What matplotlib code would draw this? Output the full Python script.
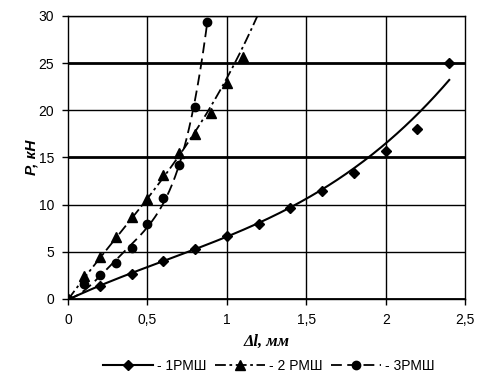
import numpy as np
import matplotlib
matplotlib.use("Agg")
import matplotlib.pyplot as plt
from matplotlib.lines import Line2D

plt.rcParams['font.family'] = ['Liberation Sans', 'DejaVu Sans']

# series 1 (1РМШ) measured points
x1 = [0, 0.2, 0.4, 0.6, 0.8, 1.0, 1.2, 1.4, 1.6, 1.8, 2.0, 2.2, 2.4]
y1 = [0, 1.4, 2.7, 4.0, 5.3, 6.7, 8.0, 9.6, 11.5, 13.4, 15.7, 18.0, 25.0]
# series 2 (2 РМШ)
x2 = [0, 0.1, 0.2, 0.3, 0.4, 0.5, 0.6, 0.7, 0.8, 0.9, 1.0, 1.1]
y2 = [0, 2.4, 4.5, 6.6, 8.7, 10.6, 13.1, 15.5, 17.5, 19.7, 22.9, 25.6]
# series 3 (3РМШ)
x3 = [0, 0.1, 0.2, 0.3, 0.4, 0.5, 0.6, 0.7, 0.8, 0.875]
y3 = [0, 1.6, 2.5, 3.8, 5.4, 8.0, 10.7, 14.2, 20.4, 29.4]

# trend curves
t1x = [0, 0.4, 0.8, 1.2, 1.6, 1.8, 2.0, 2.2, 2.4]
t1y = [0, 2.6, 5.3, 8.1, 11.8, 13.9, 16.3, 19.4, 23.4]
t2x = [0, 0.2, 0.4, 0.6, 0.8, 1.0, 1.19]
t2y = [0, 4.2, 8.5, 13.0, 17.8, 23.2, 30.0]
t3x = [0, 0.2, 0.4, 0.5, 0.6, 0.7, 0.8, 0.875]
t3y = [0, 2.6, 5.4, 7.6, 10.5, 14.5, 20.5, 29.4]

labels = ['- 1РМШ', '- 2 РМШ', '- 3РМШ']
xticks = [0, 0.5, 1, 1.5, 2, 2.5]
xtick_labels = ['0', '0,5', '1', '1,5', '2', '2,5']
yticks = [0, 5, 10, 15, 20, 25, 30]


def smooth(x, y, deg, x_end):
    c = np.polyfit(x, y, deg)
    xs = np.linspace(0, x_end, 300)
    return xs, np.polyval(c, xs)


fig = plt.figure(figsize=(4.8, 3.87), dpi=100)
ax = fig.add_axes([0.1417, 0.2274, 0.8273, 0.7313])

for yv in yticks:
    lw = 2.0 if yv in (0, 15, 25) else 1.0
    ax.axhline(yv, color='black', lw=lw, zorder=1)
for xv in xticks[1:-1]:
    ax.axvline(xv, color='black', lw=1.0, zorder=1)

dash2 = (6, 2, 1.5, 2)
dash3 = (6, 3)

tx, ty = smooth(t1x, t1y, 3, 2.4)
ax.plot(tx, ty, color='black', lw=1.5, zorder=3)
ax.plot(x1, y1, 'D', color='black', ms=5, zorder=4)

tx, ty = smooth(t2x, t2y, 3, 1.2)
ax.plot(tx, ty, color='black', lw=1.3, dashes=dash2, zorder=3)
ax.plot(x2, y2, '^', color='black', ms=7, zorder=4)

tx, ty = smooth(t3x, t3y, 4, 0.88)
ax.plot(tx, ty, color='black', lw=1.3, dashes=dash3, zorder=3)
ax.plot(x3, y3, 'o', color='black', ms=6, zorder=4)

ax.set_xlim(0, 2.5)
ax.set_ylim(0, 30)
ax.set_xticks(xticks)
ax.set_xticklabels(xtick_labels)
ax.set_yticks(yticks)
ax.tick_params(direction='out', length=4, width=1, labelsize=10, color='black', pad=6)
for s in ax.spines.values():
    s.set_linewidth(1.0)
    s.set_color('black')

ax.set_xlabel('Δl, мм', fontsize=12, fontweight='bold', fontstyle='italic',
              family='Liberation Serif', labelpad=5)
ax.set_ylabel('P, кН', fontsize=11, fontweight='bold', fontstyle='italic', labelpad=0)

handles = [
    Line2D([], [], color='black', lw=1.5, marker='D', ms=5),
    Line2D([], [], color='black', lw=1.3, dashes=dash2, marker='^', ms=7),
    Line2D([], [], color='black', lw=1.3, dashes=dash3, marker='o', ms=6),
]
fig.legend(handles, labels, loc='center', bbox_to_anchor=(0.56, 0.055), ncol=3,
           frameon=False, fontsize=10, handlelength=3.6, columnspacing=0.6, handletextpad=0.3)

fig.savefig('out.png', dpi=100)
